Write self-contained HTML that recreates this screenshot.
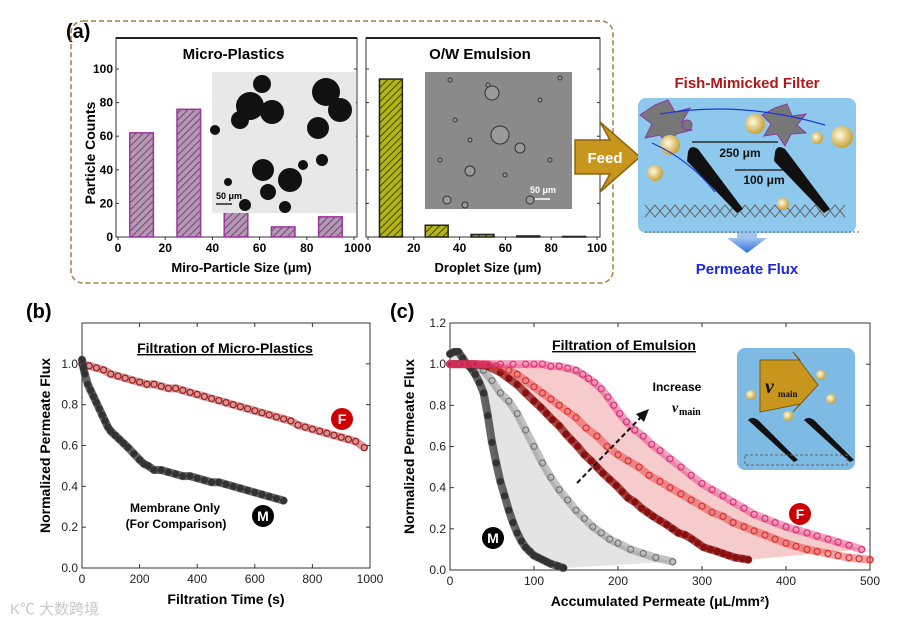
<!DOCTYPE html>
<html><head><meta charset="utf-8"><style>
body{margin:0;background:#fff}
svg{display:block;font-family:"Liberation Sans",Arial,sans-serif}
.b{font-weight:bold}
</style></head><body>
<svg id="fig" width="900" height="626" viewBox="0 0 900 626" xmlns="http://www.w3.org/2000/svg">
<defs>
<pattern id="hp" width="5" height="5" patternUnits="userSpaceOnUse" patternTransform="rotate(45)"><rect width="5" height="5" fill="#b596b5"/><line x1="0" y1="0" x2="0" y2="5" stroke="#5a3a5a" stroke-width="1.6"/></pattern>
<pattern id="ho" width="5" height="5" patternUnits="userSpaceOnUse" patternTransform="rotate(45)"><rect width="5" height="5" fill="#b4b414"/><line x1="0" y1="0" x2="0" y2="5" stroke="#2a2a00" stroke-width="1.6"/></pattern>
<radialGradient id="ball" cx="0.4" cy="0.4" r="0.6"><stop offset="0" stop-color="#fffbe0"/><stop offset="1" stop-color="#c9a23a"/></radialGradient>
<linearGradient id="perm" x1="0" y1="0" x2="0" y2="1"><stop offset="0" stop-color="#9fc4f0"/><stop offset="1" stop-color="#2f6fe0"/></linearGradient>
</defs>

<!-- panel a -->
<text x="66" y="38" font-size="20" class="b">(a)</text>
<rect x="71" y="21" width="542" height="262" rx="12" fill="none" stroke="#a08040" stroke-width="1.5" stroke-dasharray="5,3"/>
<g id="a1"></g>
<g id="a2"></g>

<!-- feed arrow -->
<g>
<polygon points="575,140 610,140 600,122 640,157 600,192 610,174 575,174" fill="#c8961c" stroke="#8a6410" stroke-width="1.5"/>
<text x="605" y="163" font-size="15" class="b" fill="#fff" text-anchor="middle">Feed</text>
</g>

<!-- fish filter diagram -->
<g>
<text x="747" y="88" font-size="15" class="b" fill="#b01818" text-anchor="middle">Fish-Mimicked Filter</text>
<rect x="638" y="98" width="218" height="135" rx="8" fill="#8ec8ec"/>
<g stroke="#666" stroke-width="1" fill="none">
<path d="M645 205 l10 12 l10 -12 l10 12 l10 -12 l10 12 l10 -12 l10 12 l10 -12 l10 12 l10 -12 l10 12 l10 -12 l10 12 l10 -12 l10 12 l10 -12 l10 12 l10 -12 l10 12 l10 -12"/>
<path d="M645 217 l10 -12 l10 12 l10 -12 l10 12 l10 -12 l10 12 l10 -12 l10 12 l10 -12 l10 12 l10 -12 l10 12 l10 -12 l10 12 l10 -12 l10 12 l10 -12 l10 12 l10 -12 l10 12"/>
</g>
<line x1="645" y1="232" x2="860" y2="232" stroke="#555" stroke-dasharray="2,2"/>
<path d="M688 152 q2 -8 10 -3 l45 60 l-6 4 l-50 -52z" fill="#111"/>
<path d="M775 152 q2 -8 10 -3 l45 60 l-6 4 l-50 -52z" fill="#111"/>
<polygon points="655,105 668,100 675,112 690,108 682,122 692,130 676,134 670,148 660,135 645,138 652,124 640,115" fill="#777" stroke="#8a3aa0"/>
<polygon points="775,108 787,104 792,116 806,114 797,125 806,133 791,134 785,146 777,134 764,136 771,124 762,115" fill="#777" stroke="#8a3aa0"/>
<circle cx="687" cy="125" r="5" fill="#777" stroke="#8a3aa0"/>
<circle cx="670" cy="145" r="10" fill="url(#ball)"/><circle cx="655" cy="173" r="8" fill="url(#ball)"/>
<circle cx="755" cy="124" r="10" fill="url(#ball)"/><circle cx="817" cy="138" r="6" fill="url(#ball)"/>
<circle cx="842" cy="137" r="11" fill="url(#ball)"/><circle cx="783" cy="204" r="6" fill="url(#ball)"/>
<path d="M660 114 Q740 100 825 125" stroke="#1838d8" fill="none" stroke-width="1.2"/>
<path d="M652 143 Q690 160 715 192" stroke="#1838d8" fill="none" stroke-width="1.2"/>
<line x1="692" y1="142" x2="778" y2="142" stroke="#111" stroke-width="1.2"/>
<text x="740" y="157" font-size="12" class="b" text-anchor="middle" fill="#111">250 μm</text>
<line x1="735" y1="170" x2="790" y2="170" stroke="#111" stroke-width="1.2"/>
<text x="764" y="184" font-size="12" class="b" text-anchor="middle" fill="#111">100 μm</text>
<polygon points="727,238 767,238 747,253" fill="url(#perm)"/>
<rect x="737" y="233" width="20" height="6" fill="#9fc4f0"/>
<text x="747" y="274" font-size="15" class="b" fill="#1a2ad8" text-anchor="middle">Permeate Flux</text>
</g>

<!-- panel b -->
<text x="26" y="318" font-size="20" class="b">(b)</text>
<g id="pb"></g>
<!-- panel c -->
<text x="390" y="318" font-size="20" class="b">(c)</text>
<g id="pc"></g>

<text x="10" y="614" font-size="15" fill="#c8c8c8" font-family="'Liberation Sans','Noto Sans CJK SC',sans-serif">K℃ 大数跨境</text>
</svg>
<script>
// ---- data ----
const histBins = [10, 30, 50, 70, 90];
const microCounts = [62, 76, 20, 6, 12];
const dropletCounts = [94, 7, 1.5, 0.6, 0.3];
const histTicks = [0, 20, 40, 60, 80, 100];

const bTime_F = [0, 25, 50, 75, 100, 125, 150, 175, 200, 225, 250, 275, 300, 325, 350, 375, 400, 425, 450, 475, 500, 525, 550, 575, 600, 625, 650, 675, 700, 725, 750, 775, 800, 825, 850, 875, 900, 925, 950, 980];
const bFlux_F = [1.0, 0.99, 0.98, 0.97, 0.95, 0.94, 0.93, 0.92, 0.91, 0.9, 0.9, 0.89, 0.88, 0.88, 0.87, 0.86, 0.85, 0.84, 0.83, 0.82, 0.81, 0.8, 0.79, 0.78, 0.77, 0.76, 0.75, 0.74, 0.73, 0.72, 0.7, 0.69, 0.68, 0.67, 0.66, 0.65, 0.64, 0.63, 0.62, 0.59];
const bTime_M = [0, 5, 10, 20, 30, 40, 50, 60, 70, 80, 90, 100, 115, 130, 145, 160, 180, 200, 215, 230, 250, 275, 300, 325, 350, 375, 400, 425, 450, 475, 500, 525, 550, 575, 600, 625, 650, 675, 700];
const bFlux_M = [1.02, 0.98, 0.95, 0.9, 0.87, 0.84, 0.81, 0.78, 0.75, 0.72, 0.69, 0.67, 0.65, 0.63, 0.61, 0.59, 0.56, 0.53, 0.51, 0.5, 0.48, 0.48, 0.47, 0.46, 0.45, 0.45, 0.44, 0.43, 0.42, 0.42, 0.41, 0.4, 0.39, 0.38, 0.37, 0.36, 0.35, 0.34, 0.33];
const bXTicks = [0, 200, 400, 600, 800, 1000];
const bYTicks = [0, 0.2, 0.4, 0.6, 0.8, 1.0];

const cX_M1 = [0, 5, 10, 15, 20, 25, 30, 35, 40, 45, 50, 55, 60, 65, 70, 75, 80, 85, 90, 95, 100, 105, 110, 115, 120, 128, 135];
const cY_M1 = [1.05, 1.06, 1.06, 1.03, 1.0, 0.98, 0.95, 0.91, 0.86, 0.75, 0.62, 0.52, 0.43, 0.36, 0.29, 0.23, 0.18, 0.14, 0.11, 0.09, 0.07, 0.06, 0.05, 0.04, 0.03, 0.02, 0.01];
const cX_M2 = [0, 10, 20, 30, 40, 50, 60, 70, 80, 90, 100, 110, 120, 130, 140, 150, 160, 170, 180, 190, 200, 215, 230, 245, 265];
const cY_M2 = [1.0, 1.0, 1.0, 0.99, 0.97, 0.92, 0.86, 0.82, 0.76, 0.68, 0.6, 0.52, 0.45, 0.39, 0.34, 0.29, 0.25, 0.21, 0.18, 0.15, 0.13, 0.1, 0.08, 0.06, 0.04];
const cX_F1 = [0, 15, 30, 45, 60, 70, 80, 90, 100, 108, 115, 122, 130, 138, 145, 152, 160, 168, 175, 182, 190, 198, 205, 212, 220, 228, 235, 242, 250, 258, 265, 272, 280, 288, 295, 302, 310, 318, 325, 332, 340, 348, 355];
const cY_F1 = [1.0, 1.0, 1.0, 0.99, 0.96, 0.93, 0.9, 0.86, 0.82, 0.79, 0.76, 0.73, 0.7, 0.66, 0.63, 0.6, 0.56, 0.53, 0.5, 0.47, 0.44, 0.41, 0.38, 0.35, 0.33, 0.3, 0.28, 0.26, 0.24, 0.22, 0.2, 0.18, 0.17, 0.15, 0.13, 0.11, 0.1, 0.09, 0.08, 0.07, 0.06, 0.055, 0.05];
const cX_F2 = [0, 20, 40, 55, 70, 80, 90, 100, 110, 120, 130, 140, 150, 162, 175, 187, 200, 212, 225, 237, 250, 262, 275, 287, 300, 312, 325, 337, 350, 362, 375, 387, 400, 412, 425, 437, 450, 462, 475, 487, 500];
const cY_F2 = [1.0, 1.0, 1.0, 0.99, 0.97, 0.95, 0.92, 0.89, 0.86, 0.83, 0.8, 0.77, 0.74, 0.69, 0.65, 0.6, 0.56, 0.53, 0.5, 0.46, 0.43, 0.4, 0.37, 0.34, 0.31, 0.28, 0.26, 0.23, 0.21, 0.19, 0.17, 0.15, 0.13, 0.115, 0.1, 0.09, 0.08, 0.07, 0.06, 0.055, 0.05];
const cX_F3 = [0, 15, 30, 45, 60, 75, 90, 100, 110, 120, 130, 140, 150, 158, 165, 172, 180, 188, 195, 202, 210, 220, 230, 240, 250, 262, 275, 287, 300, 312, 325, 337, 350, 362, 375, 387, 400, 412, 425, 437, 450, 462, 475, 490];
const cY_F3 = [1.0, 1.0, 1.0, 1.0, 1.0, 1.0, 1.0, 1.0, 1.0, 0.99, 0.99, 0.98, 0.97, 0.95, 0.93, 0.91, 0.88, 0.84, 0.8, 0.76, 0.72, 0.68, 0.65, 0.61, 0.58, 0.54, 0.5, 0.46, 0.42, 0.39, 0.36, 0.33, 0.3, 0.27, 0.25, 0.23, 0.21, 0.195, 0.18, 0.165, 0.15, 0.135, 0.12, 0.1];
const cXTicks = [0, 100, 200, 300, 400, 500];
const cYTicks = [0, 0.2, 0.4, 0.6, 0.8, 1.0, 1.2];

const NS = 'http://www.w3.org/2000/svg';
function mk(parent, tag, attrs, text) {
  const e = document.createElementNS(NS, tag);
  for (const k in attrs) e.setAttribute(k, attrs[k]);
  if (text !== undefined) e.textContent = text;
  parent.appendChild(e);
  return e;
}
function lin(d0, d1, r0, r1) { return v => r0 + (v - d0) / (d1 - d0) * (r1 - r0); }

// ---- histograms ----
function hist(gid, L, R, counts, fill, stroke, title, xlabel, showY, inset) {
  const g = document.getElementById(gid);
  const T = 38, B = 237;
  const x = lin(0, 100, L + 2, R - 3), y = lin(0, 100, B, 69);
  const frame = mk(g, 'rect', {x: L, y: T, width: R - L, height: B - T, fill: '#fff', stroke: '#333', 'stroke-width': 1});
  
  
  mk(g, 'line', {x1: L, y1: T, x2: R, y2: T, stroke: '#222', 'stroke-width': 2});
  counts.forEach((c, i) => {
    const b = mk(g, 'rect', {x: x(histBins[i] - 5), y: y(c), width: x(histBins[i] + 5) - x(histBins[i] - 5), height: B - y(c), fill: fill, stroke: stroke, 'stroke-width': 1.5});
    
    
  });
  histTicks.forEach(t => {
    mk(g, 'line', {x1: x(t), y1: B, x2: x(t), y2: B + 3, stroke: '#333'});
    const lb = mk(g, 'text', {x: x(t), y: B + 15, 'font-size': 12, 'font-weight': 'bold', 'text-anchor': 'middle'}, t);
    
    
    mk(g, 'line', {x1: R, y1: y(t), x2: R - 3, y2: y(t), stroke: '#333'});
    mk(g, 'line', {x1: L, y1: y(t), x2: L + 3, y2: y(t), stroke: '#333'});
    if (showY) {
      const yl = mk(g, 'text', {x: L - 3, y: y(t) + 4, 'font-size': 12, 'font-weight': 'bold', 'text-anchor': 'end'}, t);
      
      
    }
  });
  const tt = mk(g, 'text', {x: (L + R) / 2 - 3, y: 59, 'font-size': 15, 'font-weight': 'bold', 'text-anchor': 'middle'}, title);
  
  
  const xt = mk(g, 'text', {x: (L + R) / 2 + 5, y: 272, 'font-size': 13, 'font-weight': 'bold', 'text-anchor': 'middle'}, xlabel);
  
  
  if (showY) {
    const yt = mk(g, 'text', {x: 0, y: 0, transform: 'translate(95,153) rotate(-90)', 'font-size': 14, 'font-weight': 'bold', 'text-anchor': 'middle'}, 'Particle Counts');
    
    
  }
  inset(g);
}
hist('a1', 116, 357, microCounts, 'url(#hp)', '#a030a0', 'Micro-Plastics', 'Miro-Particle Size (μm)', true, g => {
  const r = mk(g, 'rect', {x: 212, y: 72, width: 144, height: 141, fill: '#e8e8e8'});
  
  
  [[262,84,9],[250,106,14],[272,112,12],[240,120,9],[326,92,14],[340,110,12],[318,128,11],[215,130,5],[263,170,11],[290,180,12],[268,192,8],[322,160,6],[303,165,5],[245,205,6],[285,207,6],[228,182,4]].forEach(c => mk(g, 'circle', {cx: c[0], cy: c[1], r: c[2], fill: '#111'}));
  mk(g, 'text', {x: 216, y: 199, 'font-size': 9, 'font-weight': 'bold'}, '50 μm');
  mk(g, 'line', {x1: 216, y1: 204, x2: 232, y2: 204, stroke: '#222', 'stroke-width': 1.5});
});
hist('a2', 366, 600, dropletCounts, 'url(#ho)', '#222', 'O/W Emulsion', 'Droplet Size (μm)', false, g => {
  const r = mk(g, 'rect', {x: 425, y: 72, width: 147, height: 137, fill: '#8a8a8a'});
  
  
  [[492,93,7],[500,135,9],[520,148,5],[470,171,5],[488,85,2],[540,100,2],[455,120,2],[470,140,2],[550,160,2],[447,200,4],[465,205,3],[530,200,4],[505,175,2],[440,160,2],[560,78,2],[450,80,2]].forEach(c => mk(g, 'circle', {cx: c[0], cy: c[1], r: c[2], fill: '#9a9a9a', stroke: '#333', 'stroke-width': 1}));
  mk(g, 'text', {x: 530, y: 193, 'font-size': 9, 'font-weight': 'bold', fill: '#fff'}, '50 μm');
  mk(g, 'line', {x1: 535, y1: 199, x2: 550, y2: 199, stroke: '#fff', 'stroke-width': 1.5});
});

// ---- generic line chart ----
function axes(g, L, R, T, B, xs, ys, xTicks, yTicks, yFmt, xTitle, yTitle, yTitleX) {
  mk(g, 'rect', {x: L, y: T, width: R - L, height: B - T, fill: 'none', stroke: '#333', 'stroke-width': 1});
  xTicks.forEach(t => {
    mk(g, 'line', {x1: xs(t), y1: B, x2: xs(t), y2: B - 4, stroke: '#333'});
    mk(g, 'line', {x1: xs(t), y1: T, x2: xs(t), y2: T + 4, stroke: '#333'});
    const lb = mk(g, 'text', {x: xs(t), y: B + 15, 'font-size': 12, 'text-anchor': 'middle', fill: '#222'}, t);
    
    
  });
  yTicks.forEach(t => {
    mk(g, 'line', {x1: L, y1: ys(t), x2: L + 4, y2: ys(t), stroke: '#333'});
    mk(g, 'line', {x1: R, y1: ys(t), x2: R - 4, y2: ys(t), stroke: '#333'});
    const lb = mk(g, 'text', {x: L - 4, y: ys(t) + 4, 'font-size': 12, 'text-anchor': 'end', fill: '#222'}, t.toFixed(1));
    
    
  });
  const xt = mk(g, 'text', {x: (L + R) / 2, y: B + 36, 'font-size': 14, 'font-weight': 'bold', 'text-anchor': 'middle'}, xTitle);
  
  
  const yt = mk(g, 'text', {x: 0, y: 0, transform: 'translate(' + yTitleX + ',' + ((T + B) / 2) + ') rotate(-90)', 'font-size': 14, 'font-weight': 'bold', 'text-anchor': 'middle'}, yTitle);
  
  
}
function series(g, xs, ys, X, Y, color, filled, name) {
  const s = mk(g, 'g', {});
  
  
  mk(s, 'polyline', {points: X.map((v, i) => xs(v) + ',' + ys(Y[i])).join(' '), fill: 'none', stroke: color, 'stroke-width': 8, 'stroke-opacity': filled ? 0.75 : 0.45, 'stroke-linejoin': 'round', 'stroke-linecap': 'round'});
  X.forEach((v, i) => {
    const c = mk(s, 'circle', {cx: xs(v), cy: ys(Y[i]), r: 3, fill: filled ? color : 'none', stroke: color, 'stroke-width': 1.2});
    
    
  });
}
function band(g, xs, ys, X1, Y1, X2, Y2, color, name) {
  const pts = X1.map((v, i) => xs(v) + ',' + ys(Y1[i])).concat(X2.map((v, i) => xs(v) + ',' + ys(Y2[i])).reverse());
  const p = mk(g, 'polygon', {points: pts.join(' '), fill: color});
  
  
}
function badge(g, cx, cy, fill, letter, name) {
  const b = mk(g, 'g', {});
  
  
  mk(b, 'circle', {cx: cx, cy: cy, r: 11, fill: fill});
  mk(b, 'text', {x: cx, y: cy + 5, 'font-size': 14, 'font-weight': 'bold', fill: '#fff', 'text-anchor': 'middle'}, letter);
}

// ---- panel b ----
(function () {
  const g = document.getElementById('pb');
  const L = 82, R = 370, T = 323, B = 568;
  const xs = lin(0, 1000, L, R), ys = lin(0, 1.2, B, T);
  axes(g, L, R, T, B, xs, ys, bXTicks, bYTicks, null, 'Filtration Time (s)', 'Normalized Permeate Flux', 50);
  series(g, xs, ys, bTime_F, bFlux_F, '#a01818', false, 'series-fish-filter');
  series(g, xs, ys, bTime_M, bFlux_M, '#333', true, 'series-membrane-only');
  const t = mk(g, 'text', {x: 225, y: 353, 'font-size': 14, 'font-weight': 'bold', 'text-anchor': 'middle', 'text-decoration': 'underline'}, 'Filtration of Micro-Plastics');
  
  
  mk(g, 'text', {x: 175, y: 512, 'font-size': 12, 'font-weight': 'bold', 'text-anchor': 'middle'}, 'Membrane Only');
  mk(g, 'text', {x: 176, y: 528, 'font-size': 12, 'font-weight': 'bold', 'text-anchor': 'middle'}, '(For Comparison)');
  badge(g, 342, 419, '#c00', 'F', 'fish-filter-badge');
  badge(g, 263, 516, '#000', 'M', 'membrane-badge');
})();

// ---- panel c ----
(function () {
  const g = document.getElementById('pc');
  const L = 450, R = 870, T = 323, B = 570;
  const xs = lin(0, 500, L, R), ys = lin(0, 1.2, B, T);
  band(g, xs, ys, cX_M1, cY_M1, cX_M2, cY_M2, '#e4e4e4', 'membrane-range-band');
  band(g, xs, ys, cX_F1, cY_F1, cX_F3, cY_F3, 'rgba(235,140,140,0.45)', 'fish-filter-range-band');
  axes(g, L, R, T, B, xs, ys, cXTicks, cYTicks, null, 'Accumulated Permeate (μL/mm²)', 'Normalized Permeate Flux', 414);
  series(g, xs, ys, cX_M2, cY_M2, '#777', false, 'series-membrane-high');
  series(g, xs, ys, cX_M1, cY_M1, '#333', true, 'series-membrane-low');
  series(g, xs, ys, cX_F1, cY_F1, '#8a1010', true, 'series-fish-low');
  series(g, xs, ys, cX_F2, cY_F2, '#e03030', false, 'series-fish-mid');
  series(g, xs, ys, cX_F3, cY_F3, '#e0307a', false, 'series-fish-high');
  const t = mk(g, 'text', {x: 624, y: 350, 'font-size': 14, 'font-weight': 'bold', 'text-anchor': 'middle', 'text-decoration': 'underline'}, 'Filtration of Emulsion');
  
  
  const a = mk(g, 'line', {x1: 577, y1: 483, x2: 645, y2: 413, stroke: '#111', 'stroke-width': 2, 'stroke-dasharray': '5,3'});
  
  
  mk(g, 'polygon', {points: '649,409 636,414 644,422', fill: '#111'});
  mk(g, 'text', {x: 677, y: 391, 'font-size': 12, 'font-weight': 'bold', 'text-anchor': 'middle'}, 'Increase');
  mk(g, 'text', {x: 672, y: 412, 'font-size': 14, 'font-style': 'italic', 'font-family': 'Liberation Serif,serif', 'font-weight': 'bold'}, 'v');
  mk(g, 'text', {x: 679, y: 415, 'font-size': 10, 'font-family': 'Liberation Serif,serif', 'font-weight': 'bold'}, 'main');
  // inset
  const ins = mk(g, 'g', {});
  
  
  mk(ins, 'rect', {x: 737, y: 348, width: 118, height: 122, rx: 8, fill: '#7dbbe4'});
  mk(ins, 'polygon', {points: '760,360 800,360 793,352 818,385 793,412 800,404 760,412', fill: '#c8961c', stroke: '#7a5a10'});
  mk(ins, 'text', {x: 765, y: 393, 'font-size': 20, 'font-style': 'italic', 'font-family': 'Liberation Serif,serif', 'font-weight': 'bold', fill: '#111'}, 'v');
  mk(ins, 'text', {x: 778, y: 397, 'font-size': 9, 'font-family': 'Liberation Serif,serif', 'font-weight': 'bold', fill: '#111'}, 'main');
  [[751,395],[821,375],[831,399],[788,416]].forEach(c => mk(ins, 'circle', {cx: c[0], cy: c[1], r: 5, fill: 'url(#ball)'}));
  mk(ins, 'path', {d: 'M748 420 q4 -4 10 0 l40 40 l-4 2 z', fill: '#111'});
  mk(ins, 'path', {d: 'M804 420 q4 -4 10 0 l40 40 l-4 2 z', fill: '#111'});
  mk(ins, 'rect', {x: 745, y: 455, width: 102, height: 10, fill: 'none', stroke: '#666', 'stroke-dasharray': '3,2'});
  badge(g, 800, 514, '#c00', 'F', 'fish-filter-badge');
  badge(g, 493, 538, '#000', 'M', 'membrane-badge');
})();
</script>
</body></html>
